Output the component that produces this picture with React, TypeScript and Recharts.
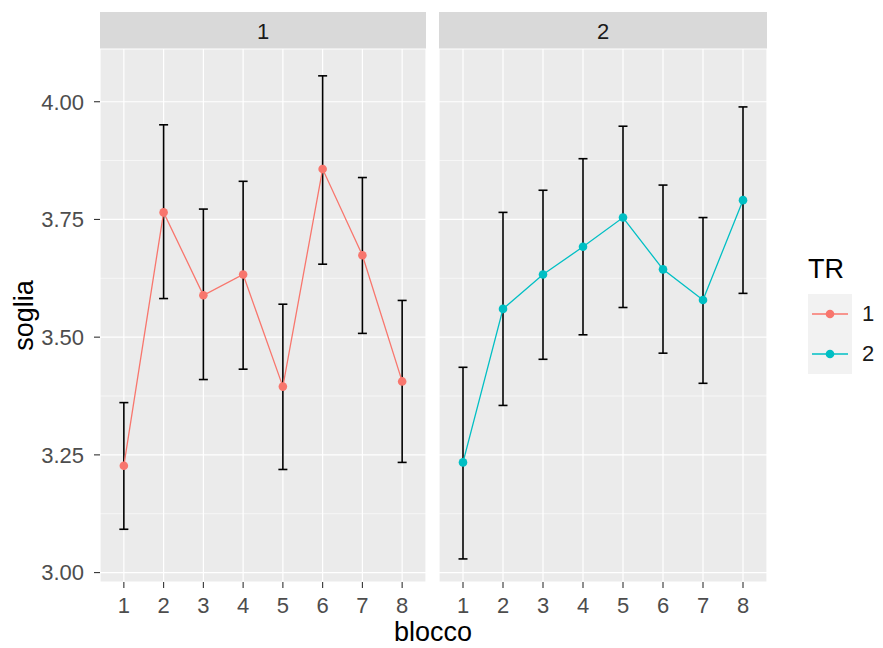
import React from "react";
import {
  LineChart,
  Line,
  XAxis,
  YAxis,
  CartesianGrid,
  ErrorBar,
  ReferenceLine,
  Legend,
} from "recharts";

// blocco 1..8, one panel per TR level
const blocks = [1, 2, 3, 4, 5, 6, 7, 8];

const tr1Mean = [3.227, 3.765, 3.589, 3.633, 3.395, 3.857, 3.674, 3.406];
const tr1Low = [3.092, 3.582, 3.41, 3.432, 3.219, 3.655, 3.508, 3.234];
const tr1High = [3.361, 3.951, 3.772, 3.831, 3.57, 4.055, 3.839, 3.578];

const tr2Mean = [3.234, 3.56, 3.633, 3.692, 3.754, 3.644, 3.579, 3.791];
const tr2Low = [3.029, 3.355, 3.453, 3.505, 3.563, 3.466, 3.402, 3.593];
const tr2High = [3.436, 3.765, 3.812, 3.879, 3.948, 3.823, 3.754, 3.989];

const yTicks = [3, 3.25, 3.5, 3.75, 4];
const yMinor = [3.125, 3.375, 3.625, 3.875];
const trLevels = ["1", "2"];
const trColors = ["#F8766D", "#00BFC4"];

const FONT = '"Liberation Sans", Arial, Helvetica, sans-serif';
const W = 883;
const H = 648;
const PLOT_TOP = 49;
const X_DOMAIN = [0.4, 8.6];
const Y_DOMAIN = [2.98, 4.112];
const TICK_FS = 22;
const TITLE_FS = 27;

function toRows(mean: number[], low: number[], high: number[]) {
  return blocks.map((b, i) => ({
    blocco: b,
    soglia: mean[i],
    err: [mean[i] - low[i], high[i] - mean[i]],
  }));
}

const panels = [
  { level: trLevels[0], color: trColors[0], data: toRows(tr1Mean, tr1Low, tr1High) },
  { level: trLevels[1], color: trColors[1], data: toRows(tr2Mean, tr2Low, tr2High) },
];

function LegendBox() {
  return (
    <div style={{ fontFamily: FONT, width: 75 }}>
      <div style={{ fontSize: TITLE_FS, lineHeight: "30px", color: "#000", marginBottom: 10 }}>TR</div>
      {trLevels.map((lv, i) => (
        <div key={lv} style={{ display: "flex", alignItems: "center", height: 40 }}>
          <svg width={44} height={40} style={{ background: "#F2F2F2", display: "block" }}>
            <line x1={4} x2={40} y1={20} y2={20} stroke={trColors[i]} strokeWidth={1.3} />
            <circle cx={22} cy={20} r={4.3} fill={trColors[i]} />
          </svg>
          <span style={{ fontSize: TICK_FS, color: "#1A1A1A", marginLeft: 10 }}>{lv}</span>
        </div>
      ))}
    </div>
  );
}

function Panel({
  data,
  color,
  level,
  left,
  width,
  plotWidth,
  showY,
  legend,
}: {
  data: any[];
  color: string;
  level: string;
  left: number;
  width: number;
  plotWidth: number;
  showY: boolean;
  legend?: boolean;
}) {
  const yW = showY ? 100 : 0;
  const plotLeft = left + yW;
  return (
    <>
      <div
        style={{
          position: "absolute",
          left: plotLeft,
          top: 12,
          width: plotWidth,
          height: 37,
          boxSizing: "border-box",
          paddingTop: 3,
          background: "#D9D9D9",
          color: "#1A1A1A",
          fontFamily: FONT,
          fontSize: TICK_FS,
          lineHeight: "34px",
          textAlign: "center",
        }}
      >
        {level}
      </div>
      <div style={{ position: "absolute", left, top: 0 }}>
        <LineChart
          width={width}
          height={H}
          data={data}
          margin={{ top: PLOT_TOP, right: width - yW - plotWidth, bottom: 36, left: 0 }}
        >
          <CartesianGrid fill="#EBEBEB" stroke="#FFFFFF" strokeWidth={1.2} />
          {yMinor.map((v) => (
            <ReferenceLine key={v} y={v} stroke="#FFFFFF" strokeWidth={0.6} />
          ))}
          <XAxis
            dataKey="blocco"
            type="number"
            domain={X_DOMAIN}
            ticks={blocks}
            interval={0}
            allowDataOverflow
            axisLine={false}
            tickSize={6}
            tickMargin={9}
            height={30}
            tickLine={{ stroke: "#333333", strokeWidth: 1.1 }}
            tick={{ fill: "#4D4D4D", fontSize: TICK_FS, fontFamily: FONT }}
          />
          <YAxis
            type="number"
            domain={Y_DOMAIN}
            ticks={yTicks}
            allowDataOverflow
            hide={!showY}
            width={yW}
            axisLine={false}
            tickSize={6}
            tickMargin={10}
            tickLine={{ stroke: "#333333", strokeWidth: 1.1 }}
            tick={{ fill: "#4D4D4D", fontSize: TICK_FS, fontFamily: FONT }}
            tickFormatter={(v: number) => v.toFixed(2)}
            label={
              showY
                ? {
                    value: "soglia",
                    angle: -90,
                    position: "insideLeft",
                    offset: 23,
                    style: { textAnchor: "middle", fontSize: TITLE_FS, fill: "#000", fontFamily: FONT },
                  }
                : undefined
            }
          />
          <Line
            type="linear"
            dataKey="soglia"
            stroke={color}
            strokeWidth={1.3}
            dot={{ r: 4.3, fill: color, stroke: color, strokeWidth: 0 }}
            activeDot={false}
            isAnimationActive={false}
          >
            <ErrorBar dataKey="err" direction="y" width={4.5} stroke="#000" strokeWidth={1.6} />
          </Line>
          {legend && (
            <Legend
              layout="vertical"
              align="center"
              verticalAlign="middle"
              wrapperStyle={{ left: 808 - left, top: 254, width: 75 }}
              content={() => <LegendBox />}
            />
          )}
        </LineChart>
      </div>
    </>
  );
}

export default function App() {
  return (
    <div
      style={{
        position: "absolute",
        left: 0,
        top: 0,
        width: W,
        height: H,
        background: "#FFFFFF",
        overflow: "hidden",
      }}
    >
      <Panel {...panels[0]} left={0} width={430} plotWidth={326} showY />
      <Panel {...panels[1]} left={439} width={444} plotWidth={328} showY={false} legend />
      <div
        style={{
          position: "absolute",
          left: 333,
          top: 616,
          width: 200,
          textAlign: "center",
          fontFamily: FONT,
          fontSize: TITLE_FS,
          lineHeight: "32px",
          color: "#000",
        }}
      >
        blocco
      </div>
    </div>
  );
}
